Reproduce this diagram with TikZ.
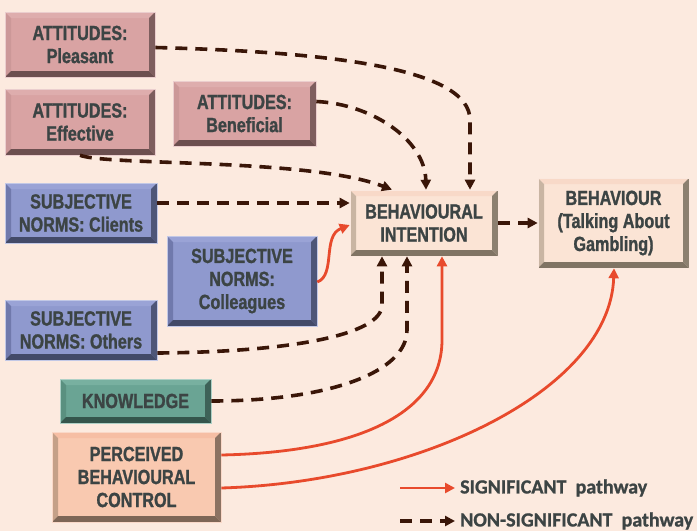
\documentclass[tikz,border=0pt]{standalone}
\usepackage{fontspec}
\setmainfont{Liberation Sans}
\newfontfamily\boxfont{Liberation Sans}[FakeStretch=0.79, UprightFont=*-Bold, FakeBold=1.2]
\newfontfamily\legendfont{Carlito}[UprightFont=*-Bold, FakeBold=1.0]
\usetikzlibrary{arrows.meta}

\definecolor{bgcol}{HTML}{FCEADF}
\definecolor{txtcol}{HTML}{3C4444}
\definecolor{sigred}{HTML}{E84A2C}
\definecolor{nsdark}{HTML}{3A1608}
% attitude boxes
\definecolor{attF}{HTML}{D9A3A3}\definecolor{attT}{HTML}{DEADAD}
\definecolor{attL}{HTML}{CC9898}\definecolor{attR}{HTML}{7E5E5E}
\definecolor{attB}{HTML}{6C4F4F}
% subjective norm boxes
\definecolor{snF}{HTML}{8F99CE}\definecolor{snT}{HTML}{9AA3D6}
\definecolor{snL}{HTML}{7079AC}\definecolor{snR}{HTML}{4E5678}
\definecolor{snB}{HTML}{434A68}
% knowledge box
\definecolor{knF}{HTML}{6AA494}\definecolor{knT}{HTML}{78B0A0}
\definecolor{knL}{HTML}{5A9080}\definecolor{knR}{HTML}{3E6258}
\definecolor{knB}{HTML}{35554C}
% perceived control box
\definecolor{pbF}{HTML}{F9C9B0}\definecolor{pbT}{HTML}{F6BEA4}
\definecolor{pbL}{HTML}{C4A088}\definecolor{pbR}{HTML}{8C7262}
\definecolor{pbB}{HTML}{7E6656}
% intention / behaviour boxes
\definecolor{biF}{HTML}{FBE4D5}\definecolor{biT}{HTML}{F8D9C8}
\definecolor{biL}{HTML}{C9B5A3}\definecolor{biR}{HTML}{8C8070}
\definecolor{biB}{HTML}{807464}

\tikzset{
  bevel/.style n args={5}{
    fill=#1, draw=#2!60!white, line width=0.6pt,
    text=txtcol, align=center,
    font=\boxfont\fontsize{20.5}{23}\selectfont,
    inner sep=0pt,
    path picture={
      \def\pb{path picture bounding box}
      \fill[#2] (\pb.north west) -- (\pb.north east)
        -- ([xshift=-6pt,yshift=-6pt]\pb.north east)
        -- ([xshift=6pt,yshift=-6pt]\pb.north west) -- cycle;
      \fill[#3] (\pb.north west) -- ([xshift=6pt,yshift=-6pt]\pb.north west)
        -- ([xshift=6pt,yshift=6pt]\pb.south west) -- (\pb.south west) -- cycle;
      \fill[#4] (\pb.north east) -- ([xshift=-6pt,yshift=-6pt]\pb.north east)
        -- ([xshift=-6pt,yshift=6pt]\pb.south east) -- (\pb.south east) -- cycle;
      \fill[#5] (\pb.south west) -- ([xshift=6pt,yshift=6pt]\pb.south west)
        -- ([xshift=-6pt,yshift=6pt]\pb.south east) -- (\pb.south east) -- cycle;
    }},
  attbox/.style={bevel={attF}{attT}{attL}{attR}{attB}},
  snbox/.style={bevel={snF}{snT}{snL}{snR}{snB}},
  knbox/.style={bevel={knF}{knT}{knL}{knR}{knB}},
  pbbox/.style={bevel={pbF}{pbT}{pbL}{pbR}{pbB}},
  bibox/.style={bevel={biF}{biT}{biL}{biR}{biB}},
  sig/.style={draw=sigred, line width=2.8pt,
    -{Triangle[length=10pt,width=10pt]}},
  nonsig/.style={draw=nsdark, line width=3.6pt, dash pattern=on 12pt off 8pt,
    -{Triangle[length=10pt,width=10pt]}},
  legtext/.style={text=txtcol, anchor=west, inner sep=0pt,
    font=\legendfont\fontsize{20}{23}\selectfont}
}

\begin{document}
\begin{tikzpicture}[x=1pt,y=-1pt]
\fill[bgcol] (0,0) rectangle (697,531);
\useasboundingbox (0,0) rectangle (697,531);

% predictor boxes
\node[attbox, minimum width=150pt, minimum height=65pt] (pleasant) at (80,44.5) {ATTITUDES:\\Pleasant};
\node[attbox, minimum width=150pt, minimum height=66pt] (effective) at (80,122) {ATTITUDES:\\Effective};
\node[attbox, minimum width=143pt, minimum height=65pt] (beneficial) at (244.5,113.5) {ATTITUDES:\\Beneficial};
\node[snbox, minimum width=152pt, minimum height=60pt] (clients) at (81,213) {SUBJECTIVE\\NORMS: Clients};
\node[snbox, minimum width=150pt, minimum height=90pt] (colleagues) at (242,281) {SUBJECTIVE\\NORMS:\\Colleagues};
\node[snbox, minimum width=152pt, minimum height=60pt] (others) at (81,330) {SUBJECTIVE\\NORMS: Others};
\node[knbox, minimum width=151pt, minimum height=44pt] (knowledge) at (135.5,401) {KNOWLEDGE};
\node[pbbox, minimum width=169pt, minimum height=90pt] (pbc) at (136.5,477) {PERCEIVED\\BEHAVIOURAL\\CONTROL};

% outcome boxes
\node[bibox, minimum width=148pt, minimum height=66pt] (intention) at (424,223) {BEHAVIOURAL\\INTENTION};
\node[bibox, minimum width=151pt, minimum height=90pt] (behaviour) at (613.5,223) {BEHAVIOUR\\(Talking About\\Gambling)};

% non-significant pathways
\draw[nonsig] ([yshift=-3pt]pleasant.east) .. controls (330,52) and (470,68) .. (470,120) -- ([xshift=46pt]intention.north);
\draw[nonsig] ([yshift=12pt]beneficial.east) .. controls (372,104) and (425,140) .. ([xshift=2pt]intention.north);
\draw[nonsig] (effective.south) .. controls (110,166) and (310,158) .. ([xshift=-32pt]intention.north);
\draw[nonsig] (clients.east |- 0,203) -- (intention.west |- 0,203);
\draw[nonsig] ([yshift=-23pt]others.east) .. controls (290,352) and (382,335) .. (382,305) -- ([xshift=-42pt]intention.south);
\draw[nonsig] (knowledge.east) .. controls (330,401) and (407,372) .. (407,330) -- ([xshift=-17pt]intention.south);
\draw[nonsig] (intention.east) -- (behaviour.west);

% significant pathways
\draw[sig] ([yshift=-1pt]colleagues.east) .. controls (336,275) and (322,236) .. ([yshift=-2pt]intention.west);
\draw[sig] ([yshift=22pt]pbc.east) .. controls (365,452) and (442,410) .. (442,340) -- ([xshift=18pt]intention.south);
\draw[sig] ([yshift=-11pt]pbc.east) .. controls (420,482) and (610,390) .. ([xshift=0.5pt]behaviour.south);

% legend
\coordinate (sigA) at (400,488);
\coordinate (sigB) at (455,488);
\coordinate (nsA) at (400,521);
\coordinate (nsB) at (455,521);
\draw[sig] (sigA) -- (sigB);
\draw[nonsig] (nsA) -- (nsB);
\node[legtext] (siglabel) at (460,488) {SIGNIFICANT\ \ pathway};
\node[legtext] (nslabel) at (460,521) {NON-SIGNIFICANT\ \ pathway};
\end{tikzpicture}
\end{document}
